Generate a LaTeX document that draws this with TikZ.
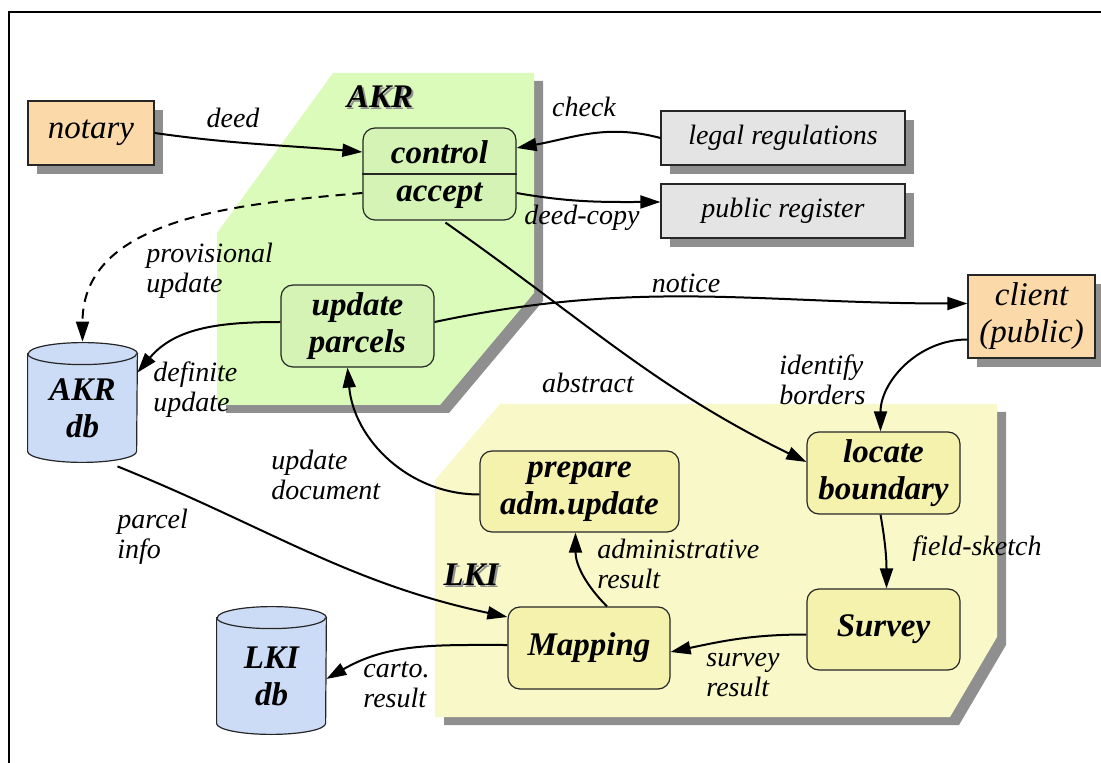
\documentclass[tikz,border=0pt]{standalone}
\usepackage{fontspec}
\setmainfont{Liberation Serif}
\usepackage{tikz}
\usetikzlibrary{arrows.meta,positioning,shadows,calc,backgrounds}
\definecolor{ink}{HTML}{262626}
\definecolor{shgray}{HTML}{8F8F8F}
\definecolor{akrgreen}{HTML}{DBFBBA}
\definecolor{akrbox}{HTML}{D4F3B4}
\definecolor{lkiyellow}{HTML}{F8F8C8}
\definecolor{lkibox}{HTML}{F5F2AE}
\definecolor{agentorange}{HTML}{FBD9A9}
\definecolor{docgray}{HTML}{E4E4E4}
\definecolor{dbblue}{HTML}{CCDCF7}
\newcommand{\procfont}{\fontsize{16.5}{18.5}\selectfont\bfseries\itshape}
\newcommand{\agentfont}{\fontsize{16.5}{18.5}\selectfont\itshape}
\newcommand{\docfont}{\fontsize{14}{16}\selectfont\itshape}
\newcommand{\tagfont}{\fontsize{14}{15}\selectfont\itshape}
\tikzset{
  proc/.style={draw=ink,line width=0.6pt,rounded corners=6pt,align=center,
               font=\procfont,inner sep=2pt},
  akrproc/.style={proc,fill=akrbox},
  lkiproc/.style={proc,fill=lkibox},
  boxshadow/.style={drop shadow={shadow xshift=4.5pt,shadow yshift=-4.5pt,
                    fill=shgray,opacity=1}},
  agent/.style={draw=ink,line width=0.6pt,fill=agentorange,align=center,
                font=\agentfont,inner sep=2pt,boxshadow},
  docbox/.style={draw=ink,line width=0.6pt,fill=docgray,font=\docfont,
                 inner sep=2pt,minimum width=122pt,minimum height=27pt,boxshadow},
  db/.style={align=center,font=\procfont,inner sep=0pt,minimum width=54.5pt},
  dbbody/.style={draw=ink,line width=0.6pt,fill=dbblue},
  flow/.style={-{Triangle[length=10pt,width=6.5pt]},line width=1pt,draw=black},
  tag/.style={font=\tagfont,align=left,inner sep=0pt},
  regionshade/.style={fill=shgray,shift={(9,8)}},
  regionname/.style={font=\procfont,inner sep=0pt}
}
\newcommand{\drawdb}[1]{%
  \begin{scope}[on background layer]
    \filldraw[dbbody] (#1.north west) -- ($(#1.south west)+(0,-11)$)
      arc[start angle=180,end angle=360,x radius=27.25pt,y radius=5.5pt]
      -- (#1.north east)
      arc[start angle=0,end angle=180,x radius=27.25pt,y radius=5.5pt] -- cycle;
    \draw[ink,line width=0.6pt] (#1.north west)
      arc[start angle=180,end angle=360,x radius=27.25pt,y radius=5.5pt];
  \end{scope}}

\begin{document}
\begin{tikzpicture}[x=0.5pt,y=-0.5pt]
  \useasboundingbox (0,0) rectangle (1101,763);
  \draw[line width=1pt] (9,763) -- (9,12) -- (1101,12);

  % regions
  \fill[regionshade] (333,73) -- (534,73) -- (534,293) -- (440,405)
    -- (217,405) -- (217,233) -- cycle;
  \fill[akrgreen] (333,73) -- (534,73) -- (534,293) -- (440,405)
    -- (217,405) -- (217,233) -- cycle;
  \fill[regionshade] (500,404) -- (997,404) -- (997,637) -- (950,717)
    -- (435,717) -- (435,480) -- cycle;
  \fill[lkiyellow] (500,404) -- (997,404) -- (997,637) -- (950,717)
    -- (435,717) -- (435,480) -- cycle;
  \node[regionname,text=shgray] (akrshade) at (382,99) {AKR};
  \node[regionname] (akrname) at (380,97) {AKR};
  \node[regionname,text=shgray] (lkishade) at (473,577) {LKI};
  \node[regionname] (lkiname) at (471,575) {LKI};

  % nodes
  \node[agent,minimum width=63pt,minimum height=32pt] (notary) at (91,133) {notary};
  \node[akrproc,minimum width=76.5pt,minimum height=46pt] (ctrlbox) at (439.5,174) {};
  \draw[ink,line width=0.6pt] (ctrlbox.west) -- (ctrlbox.east);
  \node[font=\procfont] (control) at (439.5,152) {control};
  \node[font=\procfont] (accept) at (439.5,196) {accept};
  \node[docbox] (legal) at (783,138) {legal regulations};
  \node[docbox] (public) at (783,211) {public register};
  \node[akrproc,minimum width=76.5pt,minimum height=41pt] (parcels) at (357.5,326)
    {update\\parcels};
  \node[agent,minimum width=63.5pt,minimum height=41.5pt] (client) at (1031.5,316.5)
    {client\\(public)};
  \node[db,minimum height=54pt] (akrdb) at (82.5,408) {AKR\\db};
  \drawdb{akrdb}
  \node[db,minimum height=58pt] (lkidb) at (271.5,676) {LKI\\db};
  \drawdb{lkidb}
  \node[lkiproc,minimum width=99.5pt,minimum height=40.5pt] (prepare) at (579.5,491.5)
    {prepare\\adm.update};
  \node[lkiproc,minimum width=76.5pt,minimum height=41pt] (locate) at (883.5,473)
    {locate\\boundary};
  \node[lkiproc,minimum width=76.5pt,minimum height=40.5pt] (survey) at (883.5,629.5)
    {Survey};
  \node[lkiproc,minimum width=81pt,minimum height=41pt] (mapping) at (589,648)
    {Mapping};

  % flows
  \draw[flow] (notary.east) to[out=-8,in=175] ($(ctrlbox.west)+(0,-22)$);
  \draw[flow] (legal.west) to[out=165,in=10] ($(ctrlbox.east)+(0,-26)$);
  \draw[flow] ($(ctrlbox.east)+(0,19)$) to[out=-10,in=180] ($(public.west)+(0,-9)$);
  \draw[flow,dash pattern=on 5pt off 3.5pt] ($(ctrlbox.west)+(0,19)$)
    to[out=185,in=90] ($(akrdb.north)+(0,-12)$);
  \draw[flow] ($(parcels.west)+(0,-4)$) to[out=180,in=50] ($(akrdb.north east)+(0,19)$);
  \draw[flow] ($(parcels.east)+(0,-4)$) to[out=12,in=180] ($(client.west)+(0,-13)$);
  \draw[flow] ($(client.west)+(0,23)$) to[out=180,in=90] ($(locate.north)+(-3,0)$);
  \draw[flow] ($(ctrlbox.south)+(6,2)$) to[out=-35,in=154] ($(locate.west)+(0,-11)$);
  \draw[flow] ($(locate.south)+(-3,0)$) to[out=-80,in=90] ($(survey.north)+(3,0)$);
  \draw[flow] ($(survey.west)+(0,5)$) to[out=180,in=12] ($(mapping.east)+(0,4)$);
  \draw[flow] ($(mapping.north)+(18,0)$) to[out=135,in=-90] ($(prepare.south)+(-4,0)$);
  \draw[flow] ($(prepare.west)+(0,3)$) to[out=180,in=-85] ($(parcels.south)+(-10,0)$);
  \draw[flow] ($(akrdb.south)+(35,4)$) to[out=-22,in=168] ($(mapping.west)+(0,-31)$);
  \draw[flow] ($(mapping.west)+(0,-3)$) to[out=180,in=30] ($(lkidb.east)+(0,3)$);

  % labels
  \node[tag] (deedlbl) at (233,118) {deed};
  \node[tag] (checklbl) at (584,107) {check};
  \node[tag] (copylbl) at (582,218) {deed-copy};
  \node[tag,anchor=west] (provlbl) at (146,271) {provisional\\update};
  \node[tag] (noticelbl) at (686,283) {notice};
  \node[tag,anchor=west] (deflbl) at (153,390) {definite\\update};
  \node[tag] (abstrlbl) at (588,383) {abstract};
  \node[tag,anchor=west] (identlbl) at (779,380) {identify\\borders};
  \node[tag,anchor=west] (updoclbl) at (271,475) {update\\document};
  \node[tag,anchor=west] (infolbl) at (117,537) {parcel\\info};
  \node[tag,anchor=west] (admlbl) at (597,564) {administrative\\result};
  \node[tag] (sketchlbl) at (977,549) {field-sketch};
  \node[tag,anchor=west] (surveylbl) at (706,675) {survey\\result};
  \node[tag,anchor=west] (cartolbl) at (363,685) {carto.\\result};
\end{tikzpicture}
\end{document}
